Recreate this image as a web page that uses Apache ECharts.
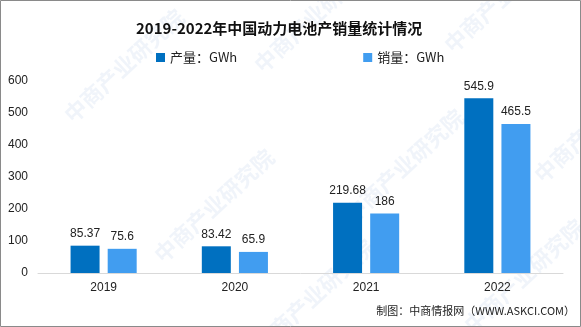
<!DOCTYPE html>
<html>
<head>
<meta charset="utf-8">
<script src="https://cdn.jsdelivr.net/npm/echarts@6/dist/echarts.min.js"></script>
<style>
  html, body { margin: 0; padding: 0; background: #fff; }
  #chart { width: 581px; height: 327px; }
</style>
</head>
<body>
<div id="chart"></div>
<script>
// Power battery output and sales in China, 2019-2022 (GWh)
const years = ['2019', '2020', '2021', '2022'];
const output = [85.37, 83.42, 219.68, 545.9];
const sales = [75.6, 65.9, 186, 465.5];
const yTicks = [0, 100, 200, 300, 400, 500, 600];

const titleText = '2019-2022年中国动力电池产销量统计情况';
const seriesNames = ['产量：GWh', '销量：GWh'];
const sourceText = '制图：中商情报网（WWW.ASKCI.COM）';
const watermark = '中商产业研究院';

const FONT = '"Liberation Sans", "Noto Sans CJK SC", sans-serif';

// faint diagonal watermark marks
const wmPositions = [[60, 110], [250, 60], [440, 40], [150, 250], [340, 210], [530, 170], [250, 340], [460, 320]];
const wmGraphics = wmPositions.map(p => ({
  type: 'text',
  x: p[0], y: p[1],
  rotation: Math.PI / 4.2,
  silent: true,
  z: -1,
  style: {
    text: watermark,
    fill: 'rgba(170, 195, 225, 0.18)',
    font: 'bold 22px "Noto Sans CJK SC", sans-serif'
  }
}));

const chart = echarts.init(document.getElementById('chart'));
chart.setOption({
  backgroundColor: '#fff',
  animation: false,
  title: {
    text: titleText,
    left: 131,
    top: 16,
    textStyle: {
      fontSize: 15,
      fontWeight: 'bold',
      color: '#111',
      fontFamily: '"Noto Sans CJK SC", sans-serif'
    }
  },
  legend: {
    data: seriesNames,
    left: 151,
    top: 46,
    itemWidth: 9,
    itemHeight: 9,
    itemGap: 126,
    icon: 'rect',
    textStyle: {
      fontSize: 13,
      color: '#222',
      fontFamily: '"Noto Sans CJK SC", sans-serif'
    }
  },
  grid: { left: 38, right: 18, top: 81, bottom: 54 },
  xAxis: {
    type: 'category',
    data: years,
    axisLine: { lineStyle: { color: '#d9d9d9' } },
    axisTick: { show: false },
    axisLabel: { color: '#222', fontSize: 12, margin: 9, fontFamily: FONT }
  },
  yAxis: {
    type: 'value',
    min: yTicks[0],
    max: yTicks[yTicks.length - 1],
    interval: yTicks[1] - yTicks[0],
    splitLine: { show: false },
    axisLine: { show: false },
    axisTick: { show: false },
    axisLabel: { color: '#222', fontSize: 12, margin: 10, fontFamily: FONT }
  },
  series: [
    {
      name: seriesNames[0],
      type: 'bar',
      data: output,
      barWidth: 29,
      barGap: '28%',
      itemStyle: { color: '#0070c0' },
      label: { show: true, position: 'top', distance: 6, color: '#222', fontSize: 12, fontFamily: FONT }
    },
    {
      name: seriesNames[1],
      type: 'bar',
      data: sales,
      barWidth: 29,
      itemStyle: { color: '#419df0' },
      label: { show: true, position: 'top', distance: 6, color: '#222', fontSize: 12, fontFamily: FONT }
    }
  ],
  graphic: wmGraphics.concat([
    {
      type: 'text',
      right: 6,
      top: 305,
      silent: true,
      style: {
        text: sourceText,
        fill: '#222',
        font: '11px "Noto Sans CJK SC", sans-serif'
      }
    },
    {
      type: 'rect',
      silent: true,
      shape: { x: 0.5, y: 0.5, width: 580, height: 326 },
      style: { fill: 'none', stroke: '#8a8a8a', lineWidth: 1 }
    }
  ])
});
</script>
</body>
</html>
